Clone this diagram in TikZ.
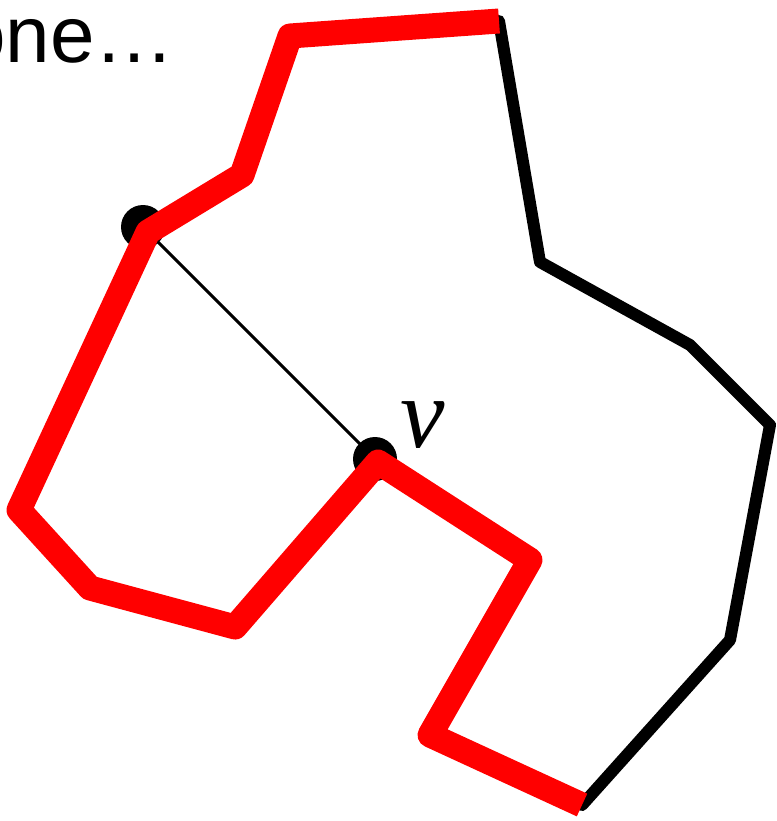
\documentclass[tikz,border=0pt]{standalone}
\usepackage{fontspec}
\setmainfont{Liberation Sans}
\newfontfamily\labelfont{Liberation Serif}
\begin{document}
\begin{tikzpicture}[x=1pt,y=-1pt,
 edge/.style={line width=12pt,line join=round},
 chain/.style={red,line width=25pt,line join=round},
 dot/.style={circle,fill=black,inner sep=0pt,minimum size=44pt}]
\clip (0,0) rectangle (776,821);
% polygon corners
\coordinate (a) at (499,21);
\coordinate (b) at (290,36);
\coordinate (c) at (242,175);
\coordinate (d) at (148,232);
\coordinate (e) at (19,510);
\coordinate (f) at (90,588);
\coordinate (g) at (235,627);
\coordinate (h) at (378,462);
\coordinate (i) at (530,560);
\coordinate (j) at (430,735);
\coordinate (k) at (582,805);
\coordinate (l) at (730,640);
\coordinate (m) at (770,425);
\coordinate (n) at (690,345);
\coordinate (o) at (540,262);
\node[font=\fontsize{80}{96}\selectfont,anchor=base west,inner sep=0pt] (title) at (-39,63) {one…};
\draw[edge] (a) -- (b) -- (c) -- (d) -- (e) -- (f) -- (g) -- (h) -- (i) -- (j) -- (k)
 -- (l) -- (m) -- (n) -- (o) -- cycle;
\node[dot] (u) at (143,227) {};
\node[dot] (v) at (375,459) {};
\draw[line width=3pt] (u.center) -- (v.center);
\draw[chain] (a) -- (b) -- (c) -- (d) -- (e) -- (f) -- (g) -- (h) -- (i) -- (j) -- (k);
\node[font=\labelfont\itshape\fontsize{100}{110}\selectfont,anchor=base west,inner sep=0pt] (vname) at (400,447) {v};
\end{tikzpicture}
\end{document}
